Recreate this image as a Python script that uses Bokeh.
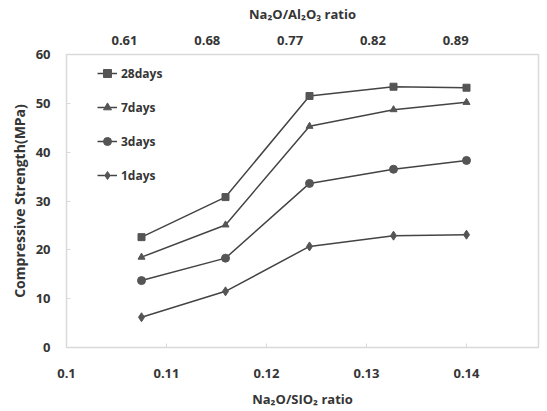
from bokeh.plotting import figure
from bokeh.models import Range1d, LinearAxis, FixedTicker, Legend, LegendItem
from bokeh.embed import file_html
from bokeh.resources import INLINE

# ---- data ----
na2o_sio2 = [0.1075, 0.1159, 0.1243, 0.1327, 0.1400]
na2o_al2o3_labels = ["0.61", "0.68", "0.77", "0.82", "0.89"]
days28 = [22.6, 30.8, 51.5, 53.4, 53.2]
days7 = [18.5, 25.1, 45.3, 48.7, 50.2]
days3 = [13.7, 18.3, 33.6, 36.5, 38.3]
days1 = [6.2, 11.5, 20.7, 22.9, 23.1]
x_ticks = [0.1, 0.11, 0.12, 0.13, 0.14]
x_tick_labels = ["0.1", "0.11", "0.12", "0.13", "0.14"]
y_ticks = [0, 10, 20, 30, 40, 50, 60]

FONT = "Open Sans"
TXT = "#353535"
LINE = "#444444"
MK = "#555555"
FRAME = "#d9d9d9"

p = figure(width=547, height=411, output_backend="svg", toolbar_location=None,
           x_range=Range1d(0.1, 0.1472), y_range=Range1d(0, 60),
           x_axis_location=None, y_axis_location=None,
           min_border_left=66, min_border_right=9, min_border_top=54, min_border_bottom=64)
p.grid.visible = False
p.outline_line_color = FRAME
p.outline_line_width = 1.5
p.background_fill_color = "white"
p.border_fill_color = "white"

def style(ax):
    ax.major_label_text_font = FONT
    ax.major_label_text_font_style = "bold"
    ax.major_label_text_font_size = "13px"
    ax.major_label_text_color = TXT
    ax.axis_label_text_font = FONT
    ax.axis_label_text_font_style = "bold"
    ax.axis_label_text_font_size = "13px"
    ax.axis_label_text_color = TXT
    ax.minor_tick_line_color = None
    ax.axis_line_color = FRAME
    ax.major_tick_line_color = FRAME
    ax.major_tick_in = 4
    ax.major_tick_out = 0

xb = LinearAxis(ticker=FixedTicker(ticks=x_ticks),
                major_label_overrides={t: l for t, l in zip(x_ticks, x_tick_labels)},
                axis_label="Na\u2082O/SIO\u2082 ratio")
style(xb)
xb.major_label_standoff = 21
xb.axis_label_standoff = 9
p.add_layout(xb, "below")

yl = LinearAxis(ticker=FixedTicker(ticks=y_ticks), axis_label="Compressive Strength(MPa)")
style(yl)
yl.axis_label_text_font_size = "14px"
yl.major_label_standoff = 16
yl.axis_label_standoff = 4
p.add_layout(yl, "left")

p.extra_x_ranges = {"top": Range1d(0.3, 6.0)}
xt = LinearAxis(x_range_name="top", ticker=FixedTicker(ticks=[1, 2, 3, 4, 5]),
                major_label_overrides={i + 1: l for i, l in enumerate(na2o_al2o3_labels)},
                axis_label="Na\u2082O/Al\u2082O\u2083 ratio")
style(xt)
xt.major_tick_line_color = None
xt.axis_line_color = None
xt.major_label_standoff = 10
xt.axis_label_standoff = 10
p.add_layout(xt, "above")

series = [
    ("28days", days28, "square", 7),
    ("7days", days7, "triangle", 7),
    ("3days", days3, "circle", 8),
    ("1days", days1, "diamond", 9),
]
items = []
for name, vals, marker, size in series:
    l = p.line(na2o_sio2, vals, line_color=LINE, line_width=1.5)
    m = p.scatter(na2o_sio2, vals, marker=marker, size=size, fill_color=MK, line_color=MK)
    items.append(LegendItem(label=name, renderers=[l, m]))

legend = Legend(items=items, location=(31, 162), orientation="vertical",
                border_line_color=None, background_fill_alpha=0,
                label_text_font=FONT, label_text_font_style="bold",
                label_text_font_size="12px", label_text_color=TXT,
                glyph_width=20, glyph_height=20, label_height=20,
                spacing=14, padding=0, margin=0, label_standoff=4)
p.add_layout(legend, "center")

open("out.html", "w").write(file_html(p, INLINE))
